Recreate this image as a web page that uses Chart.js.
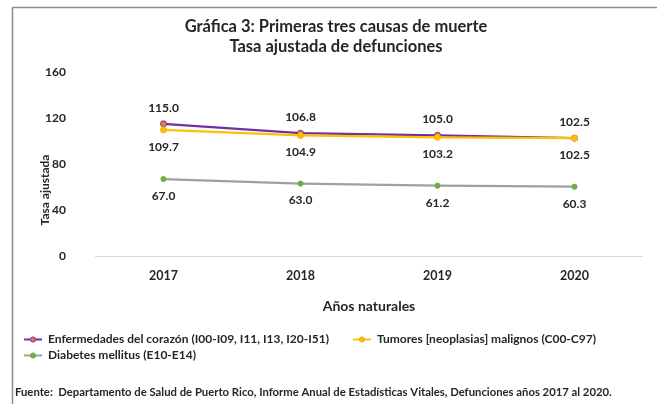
<!DOCTYPE html>
<html><head><meta charset="utf-8">
<script src="https://cdn.jsdelivr.net/npm/chart.js@4"></script>
<style>html,body{margin:0;padding:0;background:#fff;}canvas{display:block;}</style>
</head><body>
<canvas id="c" width="657" height="404"></canvas>
<script>
// ---- data ----
const years = ['2017', '2018', '2019', '2020'];
const heartDisease = [115.0, 106.8, 105.0, 102.5];
const tumors = [109.7, 104.9, 103.2, 102.5];
const diabetes = [67.0, 63.0, 61.2, 60.3];
const seriesNames = [
  'Enfermedades del corazón (I00-I09, I11, I13, I20-I51)',
  'Tumores [neoplasias] malignos (C00-C97)',
  'Diabetes mellitus (E10-E14)'
];
const titleLines = ['Gráfica 3: Primeras tres causas de muerte', 'Tasa ajustada de defunciones'];
const yAxisTitle = 'Tasa ajustada';
const xAxisTitle = 'Años naturales';
const sourceNote = 'Fuente:  Departamento de Salud de Puerto Rico, Informe Anual de Estadísticas Vitales, Defunciones años 2017 al 2020.';

const FONT = 'Lato';
const TEXT = '#262626';

function legendIcon(lineColor, dotFill, dotStroke) {
  const cv = document.createElement('canvas');
  cv.width = 38; cv.height = 11;
  const g = cv.getContext('2d');
  g.strokeStyle = lineColor; g.lineWidth = 2;
  g.beginPath(); g.moveTo(20, 5.5); g.lineTo(38, 5.5); g.stroke();
  g.fillStyle = dotFill; g.strokeStyle = dotStroke; g.lineWidth = 1;
  g.beginPath(); g.arc(29, 5.5, 2.6, 0, Math.PI * 2); g.fill(); g.stroke();
  return cv;
}
const icons = [
  legendIcon('#7030A0', '#ED7D31', '#7030A0'),
  legendIcon('#FFC000', '#FFC000', '#F5A623'),
  legendIcon('#A0A0A0', '#70AD47', '#70AD47')
];

const labelOffsets = [-16, 17, 17];

const extras = {
  id: 'extras',
  beforeDraw(chart) {
    const ctx = chart.ctx;
    ctx.save();
    ctx.strokeStyle = '#8C8C8C';
    ctx.lineWidth = 1.5;
    ctx.beginPath();
    ctx.moveTo(12.5, 404); ctx.lineTo(12.5, 7.5); ctx.lineTo(657, 7.5);
    ctx.stroke();
    ctx.restore();
  },
  afterDatasetsDraw(chart) {
    const ctx = chart.ctx;
    ctx.save();
    ctx.font = 'bold 12px ' + FONT;
    ctx.fillStyle = TEXT;
    ctx.textAlign = 'center';
    ctx.textBaseline = 'middle';
    chart.data.datasets.forEach((ds, i) => {
      const meta = chart.getDatasetMeta(i);
      meta.data.forEach((pt, j) => {
        ctx.fillText(ds.data[j].toFixed(1), pt.x, pt.y + labelOffsets[i]);
      });
    });
    ctx.restore();
  },
  afterDraw(chart) {
    const ctx = chart.ctx;
    // title
    ctx.save();
    ctx.fillStyle = TEXT;
    ctx.font = 'bold 16.5px ' + FONT;
    ctx.textAlign = 'center';
    ctx.textBaseline = 'middle';
    ctx.fillText(titleLines[0], 336, 27);
    ctx.fillText(titleLines[1], 336, 47);
    ctx.restore();
    // y axis title
    ctx.save();
    ctx.fillStyle = TEXT;
    ctx.font = 'bold 12px ' + FONT;
    ctx.textAlign = 'center';
    ctx.textBaseline = 'middle';
    ctx.translate(45, 190);
    ctx.rotate(-Math.PI / 2);
    ctx.fillText(yAxisTitle, 0, 0);
    ctx.restore();
    // source note
    ctx.save();
    ctx.fillStyle = TEXT;
    ctx.font = 'bold 11.3px ' + FONT;
    ctx.textAlign = 'left';
    ctx.textBaseline = 'middle';
    ctx.fillText(sourceNote, 15, 392);
    ctx.restore();
  }
};

new Chart(document.getElementById('c'), {
  type: 'line',
  data: {
    labels: years,
    datasets: [
      { label: seriesNames[0], data: heartDisease, borderColor: '#7030A0', borderWidth: 2.25,
        pointRadius: 3, pointBackgroundColor: '#ED7D31', pointBorderColor: '#7030A0', pointBorderWidth: 1, order: 1 },
      { label: seriesNames[1], data: tumors, borderColor: '#FFC000', borderWidth: 2.25,
        pointRadius: 3, pointBackgroundColor: '#FFC000', pointBorderColor: '#F5B000', pointBorderWidth: 1, order: 0 },
      { label: seriesNames[2], data: diabetes, borderColor: '#A0A0A0', borderWidth: 2.25,
        pointRadius: 2.6, pointBackgroundColor: '#70AD47', pointBorderColor: '#70AD47', pointBorderWidth: 1, order: 2 }
    ]
  },
  options: {
    responsive: false,
    animation: false,
    devicePixelRatio: 1,
    layout: { padding: { left: 0, right: 14, top: 72, bottom: 32.5 } },
    plugins: {
      tooltip: { enabled: false },
      title: { display: false },
      legend: {
        position: 'bottom',
        align: 'start',
        labels: {
          usePointStyle: true,
          pointStyleWidth: 38,
          boxHeight: 11,
          padding: 4,
          color: TEXT,
          font: { family: FONT, weight: 'bold', size: 12 },
          generateLabels(chart) {
            return chart.data.datasets.map((ds, i) => ({
              text: ds.label, pointStyle: icons[i], fillStyle: ds.borderColor,
              strokeStyle: ds.borderColor, lineWidth: 0, hidden: false, datasetIndex: i, fontColor: TEXT
            }));
          }
        }
      }
    },
    scales: {
      x: {
        offset: true,
        grid: { display: false, drawTicks: false, offset: true },
        border: { display: false },
        ticks: { color: TEXT, padding: 12, font: { family: FONT, weight: 'bold', size: 12.5 } },
        title: { display: true, text: xAxisTitle, color: TEXT,
          font: { family: FONT, weight: 'bold', size: 14 }, padding: { top: 3, bottom: 14.6 } }
      },
      y: {
        min: 0, max: 160,
        afterFit(scale) { scale.width = 95; },
        grid: { drawTicks: false, lineWidth: 1,
          color: (c) => (c.tick && c.tick.value === 0) ? '#D9D9D9' : 'rgba(0,0,0,0)' },
        border: { display: false },
        ticks: { stepSize: 40, padding: 29, color: TEXT, font: { family: FONT, weight: 'bold', size: 12 } }
      }
    }
  },
  plugins: [extras]
});
</script>
</body></html>
